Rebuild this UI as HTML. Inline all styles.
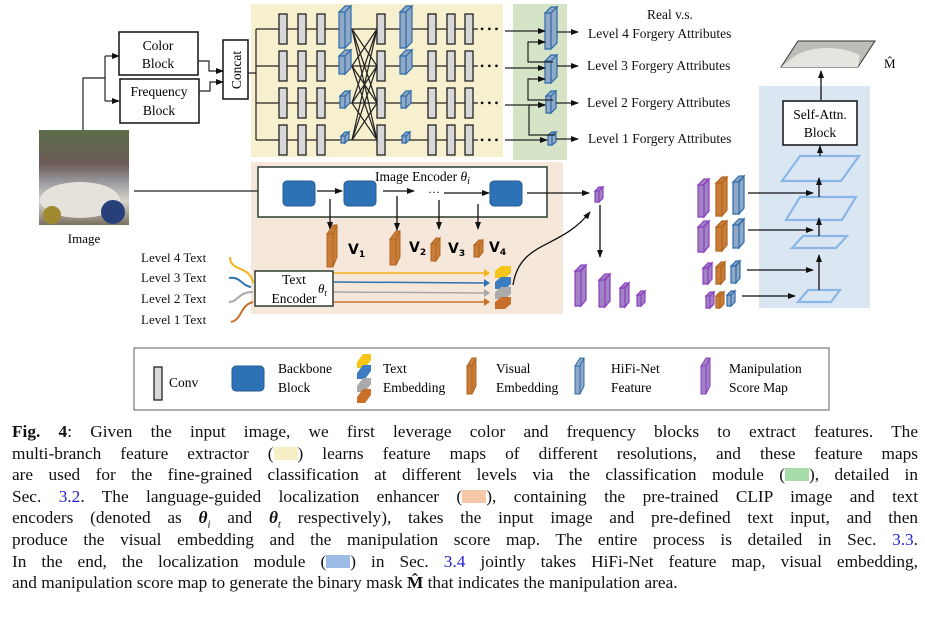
<!DOCTYPE html>
<html><head><meta charset="utf-8"><style>
body{margin:0;background:#fff;width:925px;height:620px;overflow:hidden;position:relative;font-family:"Liberation Serif",serif;}
svg{position:absolute;left:0;top:0}
.cap{position:absolute;left:12px;width:906px;font-size:17.3px;line-height:21.6px;top:421px;color:#111}
.cap div{text-align:justify;text-align-last:justify;white-space:nowrap;height:21.6px}
.cap div.l{text-align-last:left}
.sw{display:inline-block;width:24px;height:13px;vertical-align:-1px}
a{color:#2020d0;text-decoration:none}
</style></head><body>
<svg width="925" height="420" viewBox="0 0 925 420" font-family="Liberation Serif, serif">
<defs>
<marker id="a" markerWidth="8" markerHeight="8" refX="7" refY="4" orient="auto" markerUnits="userSpaceOnUse"><path d="M0,1 L8,4 L0,7Z" fill="#111"/></marker>
<rect id="cv" width="8" height="30" fill="#d8d8d8" stroke="#222" stroke-width="1.3"/>
<linearGradient id="img" x1="0" y1="0" x2="0" y2="1"><stop offset="0" stop-color="#5b6e4a"/><stop offset=".35" stop-color="#6b5a55"/><stop offset=".55" stop-color="#9a9aa0"/><stop offset=".75" stop-color="#d8d6cc"/><stop offset="1" stop-color="#7a7060"/></linearGradient>
</defs>
<!-- backgrounds -->
<rect x="251" y="4" width="252" height="153" fill="#f7f0cf"/>
<rect x="513" y="4" width="54" height="156" fill="#d5e3c6"/>
<rect x="251" y="162" width="312" height="152" fill="#f6e7db"/>
<rect x="759" y="86" width="111" height="222" fill="#dbe6f3"/>
<!-- image -->
<rect x="39" y="130" width="90" height="95" fill="url(#img)"/>
<ellipse cx="80" cy="200" rx="40" ry="18" fill="#e4e2da"/>
<circle cx="113" cy="212" r="12" fill="#27407a"/><circle cx="52" cy="215" r="9" fill="#a08a30"/>
<text x="84" y="243" font-size="13" text-anchor="middle">Image</text>
<!-- image to blocks -->
<path d="M83,130 V78 H105" fill="none" stroke="#222" stroke-width="1.2"/>
<path d="M105,56 V101" fill="none" stroke="#222" stroke-width="1.2"/>
<line x1="105" y1="56" x2="119" y2="56" stroke="#222" stroke-width="1.2" marker-end="url(#a)"/>
<line x1="105" y1="101" x2="119" y2="101" stroke="#222" stroke-width="1.2" marker-end="url(#a)"/>
<rect x="119" y="32" width="79" height="43" fill="#fff" stroke="#111" stroke-width="1.5"/>
<text x="158" y="50" font-size="13.5" text-anchor="middle">Color</text><text x="158" y="68" font-size="13.5" text-anchor="middle">Block</text>
<rect x="120" y="79" width="79" height="44" fill="#fff" stroke="#111" stroke-width="1.5"/>
<text x="159" y="96" font-size="13.5" text-anchor="middle">Frequency</text><text x="159" y="115" font-size="13.5" text-anchor="middle">Block</text>
<path d="M198,61 H209 V71 H223" fill="none" stroke="#222" stroke-width="1.2" marker-end="url(#a)"/>
<path d="M199,91 H210 V82 H223" fill="none" stroke="#222" stroke-width="1.2" marker-end="url(#a)"/>
<rect x="223" y="40" width="25" height="59" fill="#fff" stroke="#111" stroke-width="1.5"/>
<text transform="translate(241,70) rotate(-90)" font-size="13.5" text-anchor="middle">Concat</text>
<path d="M248,73 H256 M256,29 V140" stroke="#222" stroke-width="1.2" fill="none"/>
<!-- rows -->
<g stroke="#222" stroke-width="1.2">
<line x1="256" y1="29" x2="478" y2="29"/><line x1="256" y1="66" x2="478" y2="66"/><line x1="256" y1="103" x2="478" y2="103"/><line x1="256" y1="140" x2="478" y2="140"/>
<line x1="352" y1="29" x2="377" y2="66"/><line x1="352" y1="29" x2="377" y2="103"/><line x1="352" y1="29" x2="377" y2="140"/>
<line x1="352" y1="66" x2="377" y2="29"/><line x1="352" y1="66" x2="377" y2="103"/><line x1="352" y1="66" x2="377" y2="140"/>
<line x1="352" y1="103" x2="377" y2="29"/><line x1="352" y1="103" x2="377" y2="66"/><line x1="352" y1="103" x2="377" y2="140"/>
<line x1="352" y1="140" x2="377" y2="29"/><line x1="352" y1="140" x2="377" y2="66"/><line x1="352" y1="140" x2="377" y2="103"/>
</g>
<g>
<use href="#cv" x="279" y="14"/><use href="#cv" x="298" y="14"/><use href="#cv" x="317" y="14"/><use href="#cv" x="377" y="14"/><use href="#cv" x="428" y="14"/><use href="#cv" x="447" y="14"/><use href="#cv" x="465" y="14"/>
<use href="#cv" x="279" y="51"/><use href="#cv" x="298" y="51"/><use href="#cv" x="317" y="51"/><use href="#cv" x="377" y="51"/><use href="#cv" x="428" y="51"/><use href="#cv" x="447" y="51"/><use href="#cv" x="465" y="51"/>
<use href="#cv" x="279" y="88"/><use href="#cv" x="298" y="88"/><use href="#cv" x="317" y="88"/><use href="#cv" x="377" y="88"/><use href="#cv" x="428" y="88"/><use href="#cv" x="447" y="88"/><use href="#cv" x="465" y="88"/>
<use href="#cv" x="279" y="125"/><use href="#cv" x="298" y="125"/><use href="#cv" x="317" y="125"/><use href="#cv" x="377" y="125"/><use href="#cv" x="428" y="125"/><use href="#cv" x="447" y="125"/><use href="#cv" x="465" y="125"/>
</g>
<!-- HiFi blocks in extractor -->
<g fill="#8fa9c6" stroke="#2e6aa8" stroke-width="1.2">
<path d="M339,12 h6 v36 h-6z M339,12 l6,-6 h6 l-6,6z M345,12 l6,-6 v36 l-6,6z"/>
<path d="M339,56 h6 v18 h-6z M339,56 l6,-6 h6 l-6,6z M345,56 l6,-6 v18 l-6,6z"/>
<path d="M340,96 h5 v12 h-5z M340,96 l5,-5 h5 l-5,5z M345,96 l5,-5 v12 l-5,5z"/>
<path d="M341,136 h4 v7 h-4z M341,136 l4,-4 h4 l-4,4z M345,136 l4,-4 v7 l-4,4z"/>
<path d="M400,12 h6 v36 h-6z M400,12 l6,-6 h6 l-6,6z M406,12 l6,-6 v36 l-6,6z"/>
<path d="M400,56 h6 v18 h-6z M400,56 l6,-6 h6 l-6,6z M406,56 l6,-6 v18 l-6,6z"/>
<path d="M401,96 h5 v12 h-5z M401,96 l5,-5 h5 l-5,5z M406,96 l5,-5 v12 l-5,5z"/>
<path d="M402,136 h4 v7 h-4z M402,136 l4,-4 h4 l-4,4z M406,136 l4,-4 v7 l-4,4z"/>
<!-- green module -->
<path d="M545,13 h6 v36 h-6z M545,13 l6,-6 h6 l-6,6z M551,13 l6,-6 v36 l-6,6z"/>
<path d="M545,61 h6 v22 h-6z M545,61 l6,-6 h6 l-6,6z M551,61 l6,-6 v22 l-6,6z"/>
<path d="M546,96 h5 v17 h-5z M546,96 l5,-5 h5 l-5,5z M551,96 l5,-5 v17 l-5,5z"/>
<path d="M548,135 h4 v10 h-4z M548,135 l4,-3 h4 l-4,3z M552,135 l4,-3 v10 l-4,3z"/>
</g>
<g font-size="12" fill="#111"><text x="480" y="33">• • •</text><text x="480" y="70">• • •</text><text x="480" y="107">• • •</text><text x="480" y="144">• • •</text></g>
<g stroke="#222" stroke-width="1.2" fill="none">
<line x1="505" y1="31" x2="545" y2="31" marker-end="url(#a)"/><line x1="505" y1="68" x2="545" y2="68" marker-end="url(#a)"/><line x1="505" y1="105" x2="545" y2="105" marker-end="url(#a)"/><line x1="505" y1="140" x2="547" y2="140" marker-end="url(#a)"/>
<path d="M555,135 H529 V105 H545" marker-end="url(#a)"/><path d="M553,100 H528 V79 H545" marker-end="url(#a)"/><path d="M553,62 H528 V42 H545" marker-end="url(#a)"/>
<line x1="557" y1="32" x2="578" y2="32" marker-end="url(#a)"/><line x1="557" y1="66" x2="578" y2="66" marker-end="url(#a)"/><line x1="556" y1="103" x2="578" y2="103" marker-end="url(#a)"/><line x1="556" y1="139" x2="578" y2="139" marker-end="url(#a)"/>
</g>
<g font-size="13.5" fill="#111"><text x="670" y="19" text-anchor="middle">Real v.s.</text>
<text x="588" y="38">Level 4 Forgery Attributes</text><text x="587" y="70">Level 3 Forgery Attributes</text><text x="587" y="107">Level 2 Forgery Attributes</text><text x="588" y="143">Level 1 Forgery Attributes</text></g>
<!-- image encoder -->
<line x1="134" y1="191" x2="282" y2="191" stroke="#222" stroke-width="1.2" marker-end="url(#a)"/>
<rect x="258" y="167" width="289" height="50" fill="#fff" stroke="#2b3b30" stroke-width="1.5"/>
<g fill="#2e72b6" stroke="#245a90"><rect x="283" y="181" width="32" height="25" rx="4"/><rect x="344" y="181" width="32" height="25" rx="4"/><rect x="490" y="181" width="32" height="25" rx="4"/></g>
<text x="375" y="181" font-size="13.5">Image Encoder <tspan font-style="italic">θ</tspan><tspan font-style="italic" font-size="10" dy="3">i</tspan></text>
<text x="428" y="196" font-size="12">···</text>
<g stroke="#111" stroke-width="1.3" fill="none">
<line x1="317" y1="191" x2="342" y2="191" marker-end="url(#a)"/><line x1="383" y1="191" x2="414" y2="191" marker-end="url(#a)"/><line x1="444" y1="193" x2="489" y2="193" marker-end="url(#a)"/><line x1="527" y1="193" x2="589" y2="193" marker-end="url(#a)"/>
<line x1="330" y1="199" x2="330" y2="229" marker-end="url(#a)"/><line x1="397" y1="196" x2="397" y2="230" marker-end="url(#a)"/><line x1="439" y1="200" x2="439" y2="229" marker-end="url(#a)"/><line x1="478" y1="204" x2="478" y2="229" marker-end="url(#a)"/>
<line x1="600" y1="205" x2="600" y2="257" marker-end="url(#a)"/>
<path d="M513,285 C520,240 560,250 590,212" marker-end="url(#a)"/>
</g>
<!-- V blocks -->
<g fill="#c97d38" stroke="#b0651f" stroke-width="1">
<path d="M327,234 h6 v33 h-6z M327,234 l6,-9 h4 l-4,9z M333,234 l4,-9 v32 l-4,10z"/>
<path d="M390,239 h6 v26 h-6z M390,239 l6,-8 h4 l-4,8z M396,239 l4,-8 v26 l-4,8z"/>
<path d="M431,244 h5 v17 h-5z M431,244 l5,-6 h4 l-4,6z M436,244 l4,-6 v17 l-4,6z"/>
<path d="M474,245 h5 v12 h-5z M474,245 l5,-5 h4 l-4,5z M479,245 l4,-5 v12 l-4,5z"/>
</g>
<g font-size="14" font-weight="bold" font-family="DejaVu Sans, sans-serif"><text x="348" y="254">V<tspan font-size="9" dy="3">1</tspan></text><text x="409" y="252">V<tspan font-size="9" dy="3">2</tspan></text><text x="448" y="253">V<tspan font-size="9" dy="3">3</tspan></text><text x="489" y="252">V<tspan font-size="9" dy="3">4</tspan></text></g>
<!-- text encoder -->
<g font-size="13" fill="#111"><text x="141" y="262">Level 4 Text</text><text x="141" y="282">Level 3 Text</text><text x="141" y="303">Level 2 Text</text><text x="141" y="324">Level 1 Text</text></g>
<g fill="none" stroke-width="2">
<path d="M230,257 C230,272 250,265 253,283" stroke="#f2b418"/><path d="M229,278 C240,276 242,286 251,287" stroke="#2e72b6"/>
<path d="M229,302 C238,302 238,292 253,292" stroke="#a8a8a8"/><path d="M231,322 C242,320 240,305 253,302" stroke="#c8702a"/>
</g>
<rect x="255" y="271" width="78" height="35" fill="#fff" stroke="#2b3b30" stroke-width="1.5"/>
<text x="294" y="284" font-size="13.5" text-anchor="middle">Text</text><text x="294" y="303" font-size="13.5" text-anchor="middle">Encoder</text>
<text x="318" y="293" font-size="13" font-style="italic">θ<tspan font-size="9" dy="3">t</tspan></text>
<g stroke-width="1.5" fill="none">
<line x1="334" y1="273" x2="485" y2="273" stroke="#f2b418"/><line x1="334" y1="282" x2="485" y2="283" stroke="#2e72b6"/><line x1="334" y1="292" x2="485" y2="293" stroke="#a8a8a8"/><line x1="334" y1="302" x2="485" y2="302" stroke="#c8702a"/>
</g>
<g><path d="M484,269 l6,4 l-6,4z" fill="#f2b418"/><path d="M484,279 l6,4 l-6,4z" fill="#2e72b6"/><path d="M484,289 l6,4 l-6,4z" fill="#a8a8a8"/><path d="M484,298 l6,4 l-6,4z" fill="#c8702a"/></g>
<g>
<path d="M495,271 h10 v7 h-10z M495,271 l6,-5 h10 l-6,5z M505,271 l6,-5 v7 l-6,5z" fill="#f5c518"/>
<path d="M495,282 h10 v7 h-10z M495,282 l6,-5 h10 l-6,5z M505,282 l6,-5 v7 l-6,5z" fill="#3c7cc0"/>
<path d="M495,292 h10 v7 h-10z M495,292 l6,-5 h10 l-6,5z M505,292 l6,-5 v7 l-6,5z" fill="#aaa"/>
<path d="M495,302 h10 v7 h-10z M495,302 l6,-5 h10 l-6,5z M505,302 l6,-5 v7 l-6,5z" fill="#c8702a"/>
</g>
<!-- purple -->
<g fill="#a182c4" stroke="#8a3fbf" stroke-width="1.2">
<path d="M595,191 h4 v11 h-4z M595,191 l4,-4 h4 l-4,4z M599,191 l4,-4 v11 l-4,4z"/>
<path d="M575,271 h6 v35 h-6z M575,271 l6,-6 h5 l-6,6z M581,271 l5,-6 v35 l-5,6z"/>
<path d="M599,280 h6 v27 h-6z M599,280 l6,-6 h5 l-6,6z M605,280 l5,-6 v27 l-5,6z"/>
<path d="M620,288 h5 v19 h-5z M620,288 l5,-5 h4 l-5,5z M625,288 l4,-5 v19 l-4,5z"/>
<path d="M637,295 h4 v11 h-4z M637,295 l4,-4 h4 l-4,4z M641,295 l4,-4 v11 l-4,4z"/>
</g>
<!-- right stacks -->
<g stroke-width="1.2">
<g fill="#a182c4" stroke="#8a3fbf"><path d="M698,185 h6 v32 h-6z M698,185 l6,-6 h5 l-6,6z M704,185 l5,-6 v32 l-5,6z"/><path d="M698,227 h6 v25 h-6z M698,227 l6,-6 h5 l-6,6z M704,227 l5,-6 v25 l-5,6z"/><path d="M703,268 h5 v16 h-5z M703,268 l5,-5 h4 l-5,5z M708,268 l4,-5 v16 l-4,5z"/><path d="M706,296 h4 v12 h-4z M706,296 l4,-4 h4 l-4,4z M710,296 l4,-4 v12 l-4,4z"/></g>
<g fill="#c97d38" stroke="#b0651f"><path d="M716,183 h6 v33 h-6z M716,183 l6,-6 h5 l-6,6z M722,183 l5,-6 v33 l-5,6z"/><path d="M716,227 h6 v24 h-6z M716,227 l6,-6 h5 l-6,6z M722,227 l5,-6 v24 l-5,6z"/><path d="M716,267 h5 v17 h-5z M716,267 l5,-5 h4 l-5,5z M721,267 l4,-5 v17 l-4,5z"/><path d="M716,296 h4 v12 h-4z M716,296 l4,-4 h4 l-4,4z M720,296 l4,-4 v12 l-4,4z"/></g>
<g fill="#8fa9c6" stroke="#2e6aa8"><path d="M733,182 h6 v32 h-6z M733,182 l6,-6 h5 l-6,6z M739,182 l5,-6 v32 l-5,6z"/><path d="M733,225 h6 v23 h-6z M733,225 l6,-6 h5 l-6,6z M739,225 l5,-6 v23 l-5,6z"/><path d="M731,266 h5 v17 h-5z M731,266 l5,-5 h4 l-5,5z M736,266 l4,-5 v17 l-4,5z"/><path d="M727,295 h4 v11 h-4z M727,295 l4,-4 h4 l-4,4z M731,295 l4,-4 v11 l-4,4z"/></g>
</g>
<g fill="none" stroke="#8ab6e6" stroke-width="2.2">
<path d="M782,181 L800,156 H859 L841,181Z"/><path d="M786,220 L800,197 H856 L842,220Z"/><path d="M792,248 L803,236 H847 L836,248Z"/><path d="M798,302 L808,290 H840 L831,302Z"/>
</g>
<g stroke="#111" stroke-width="1.3" fill="none">
<line x1="748" y1="193" x2="813" y2="193" marker-end="url(#a)"/><line x1="748" y1="230" x2="813" y2="230" marker-end="url(#a)"/><line x1="747" y1="270" x2="813" y2="270" marker-end="url(#a)"/><line x1="742" y1="296" x2="795" y2="296" marker-end="url(#a)"/>
<line x1="819" y1="290" x2="819" y2="255" marker-end="url(#a)"/><line x1="819" y1="236" x2="819" y2="218" marker-end="url(#a)"/><line x1="819" y1="197" x2="819" y2="178" marker-end="url(#a)"/><line x1="820" y1="156" x2="820" y2="146" marker-end="url(#a)"/><line x1="821" y1="100" x2="821" y2="71" marker-end="url(#a)"/>
</g>
<rect x="783" y="101" width="74" height="44" fill="#fff" stroke="#111" stroke-width="1.5"/>
<text x="820" y="119" font-size="13.5" text-anchor="middle">Self-Attn.</text><text x="820" y="137" font-size="13.5" text-anchor="middle">Block</text>
<path d="M781,67 L798,41 H875 L858,67Z" fill="#bcbcb8" stroke="#333"/>
<path d="M790,60 C805,45 840,45 860,55 L858,67 H781Z" fill="#e6e4de"/>
<text x="884" y="68" font-size="13">M̂</text>
<!-- legend -->
<rect x="134" y="348" width="695" height="62" fill="#fff" stroke="#777" stroke-width="1.2"/>
<rect x="154" y="367" width="8" height="33" fill="#d8d8d8" stroke="#222" stroke-width="1.3"/>
<text x="169" y="387" font-size="13.5">Conv</text>
<rect x="232" y="366" width="32" height="25" rx="4" fill="#2e72b6" stroke="#245a90"/>
<text x="278" y="373" font-size="13.5">Backbone</text><text x="278" y="392" font-size="13.5">Block</text>
<path d="M357,362 h8 v6 h-8z M357,362 l6,-8 h8 l-6,8z M365,362 l6,-8 v6 l-6,8z" fill="#f5c518"/>
<path d="M357,373 h8 v6 h-8z M357,373 l6,-8 h8 l-6,8z M365,373 l6,-8 v6 l-6,8z" fill="#3c7cc0"/>
<path d="M357,386 h8 v6 h-8z M357,386 l6,-8 h8 l-6,8z M365,386 l6,-8 v6 l-6,8z" fill="#aaa"/>
<path d="M357,397 h8 v6 h-8z M357,397 l6,-8 h8 l-6,8z M365,397 l6,-8 v6 l-6,8z" fill="#c8702a"/>
<text x="383" y="373" font-size="13.5">Text</text><text x="383" y="392" font-size="13.5">Embedding</text>
<path d="M467,366 h5 v28 h-5z M467,366 l5,-8 h4 l-4,8z M472,366 l4,-8 v28 l-4,8z" fill="#c97d38" stroke="#b0651f"/>
<text x="496" y="373" font-size="13.5">Visual</text><text x="496" y="392" font-size="13.5">Embedding</text>
<path d="M575,366 h5 v28 h-5z M575,366 l5,-8 h4 l-4,8z M580,366 l4,-8 v28 l-4,8z" fill="#8fa9c6" stroke="#2e6aa8"/>
<text x="611" y="373" font-size="13.5">HiFi-Net</text><text x="611" y="392" font-size="13.5">Feature</text>
<path d="M701,366 h5 v28 h-5z M701,366 l5,-8 h4 l-4,8z M706,366 l4,-8 v28 l-4,8z" fill="#a182c4" stroke="#8a3fbf"/>
<text x="729" y="373" font-size="13.5">Manipulation</text><text x="729" y="392" font-size="13.5">Score Map</text>
</svg>
<div class="cap">
<div><b>Fig. 4</b>: Given the input image, we first leverage color and frequency blocks to extract features. The</div>
<div>multi-branch feature extractor (<span class="sw" style="background:#f7f0c4"></span>) learns feature maps of different resolutions, and these feature maps</div>
<div>are used for the fine-grained classification at different levels via the classification module (<span class="sw" style="background:#a8dca8"></span>), detailed in</div>
<div>Sec. <a>3.2</a>. The language-guided localization enhancer (<span class="sw" style="background:#f6c8a8"></span>), containing the pre-trained CLIP image and text</div>
<div>encoders (denoted as <b><i>θ</i></b><sub style="font-size:11px"><i>i</i></sub> and <b><i>θ</i></b><sub style="font-size:11px"><i>t</i></sub> respectively), takes the input image and pre-defined text input, and then</div>
<div>produce the visual embedding and the manipulation score map. The entire process is detailed in Sec. <a>3.3</a>.</div>
<div>In the end, the localization module (<span class="sw" style="background:#9cbce6"></span>) in Sec. <a>3.4</a> jointly takes HiFi-Net feature map, visual embedding,</div>
<div class="l">and manipulation score map to generate the binary mask <b>M̂</b> that indicates the manipulation area.</div>
</div>
</body></html>
